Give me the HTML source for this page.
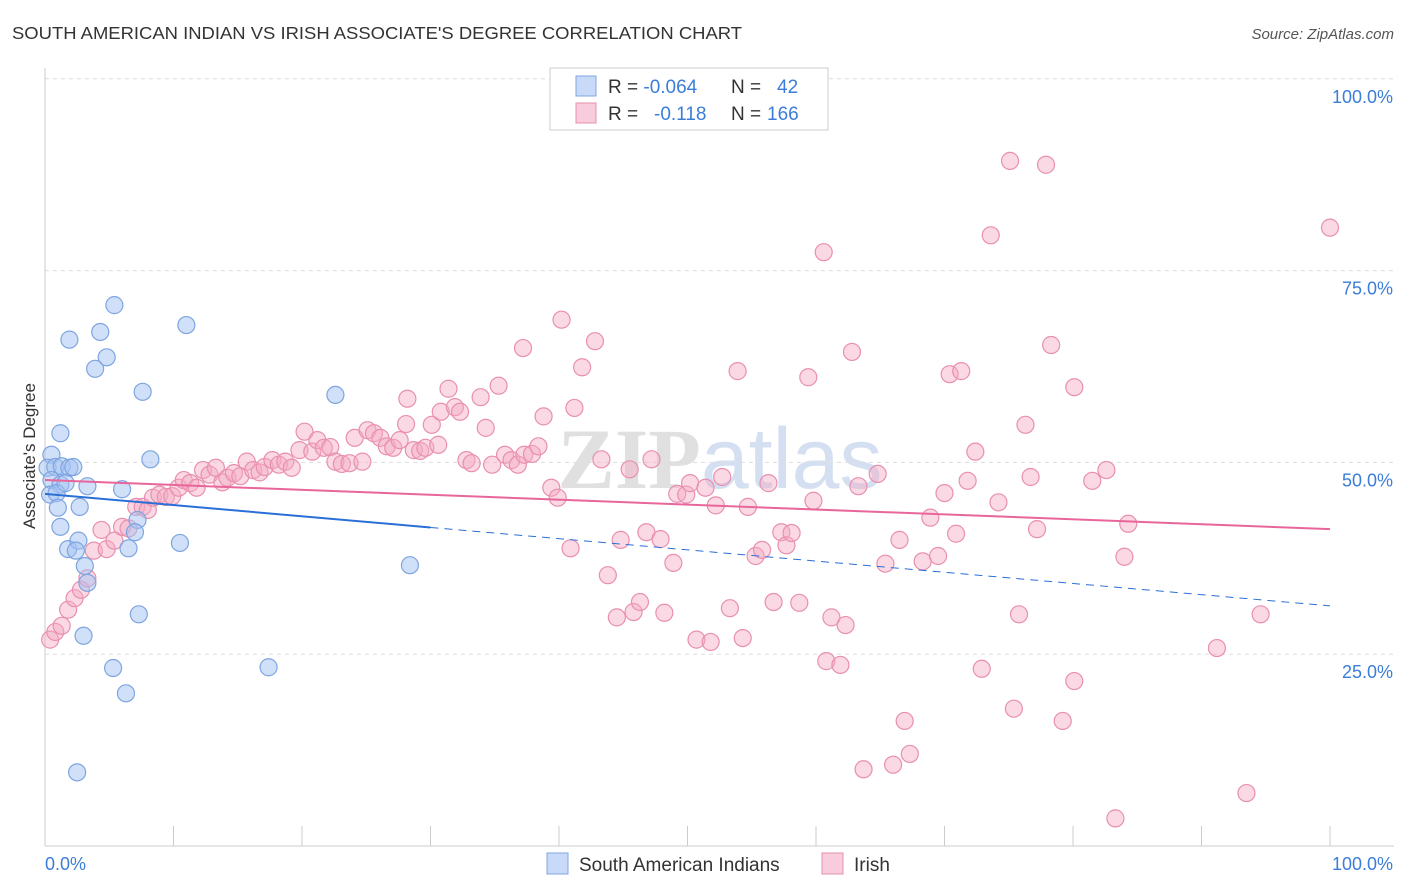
<!DOCTYPE html>
<html><head><meta charset="utf-8"><style>
body{margin:0;background:#fff;font-family:"Liberation Sans",sans-serif;}
#wrap{position:relative;width:1406px;height:892px;overflow:hidden;}
</style></head><body>
<div id="wrap">
<svg id="svg" width="1406" height="892" xmlns="http://www.w3.org/2000/svg">
<text x="12" y="39" font-size="17.5" fill="#333" textLength="730" lengthAdjust="spacingAndGlyphs">SOUTH AMERICAN INDIAN VS IRISH ASSOCIATE'S DEGREE CORRELATION CHART</text>
<text x="1394" y="39" font-size="15" fill="#555" text-anchor="end" font-style="italic">Source: ZipAtlas.com</text>
<text x="35" y="456" font-size="17" fill="#333" text-anchor="middle" transform="rotate(-90 35 456)">Associate's Degree</text>
<text x="720" y="488" font-size="86" fill="#e0e0e0" text-anchor="middle" font-family="Liberation Serif,serif" font-weight="bold">ZIP<tspan font-family="Liberation Sans,sans-serif" font-weight="normal" fill="#d4e0f2">atlas</tspan></text>
<g id="grid"></g><g id="marks"></g>
<g>
<rect x="550" y="68" width="278" height="62" fill="#fff" stroke="#ccc"/>
<rect x="576" y="76" width="20" height="20" fill="rgba(164,194,244,0.6)" stroke="#7fa6e0"/>
<rect x="576" y="103" width="20" height="20" fill="rgba(244,170,196,0.6)" stroke="#e88fae"/>
<text x="608" y="93" font-size="19" fill="#333">R = <tspan fill="#3b7dd8">-0.064</tspan><tspan x="731">N = </tspan><tspan x="777" fill="#3b7dd8">42</tspan></text>
<text x="608" y="120" font-size="19" fill="#333">R = <tspan x="654" fill="#3b7dd8">-0.118</tspan><tspan x="731">N = </tspan><tspan x="767" fill="#3b7dd8">166</tspan></text>
</g>
<g>
<rect x="547" y="853" width="21" height="21" fill="rgba(164,194,244,0.6)" stroke="#7fa6e0"/>
<text x="579" y="871" font-size="19" fill="#333">South American Indians</text>
<rect x="822" y="853" width="21" height="21" fill="rgba(244,170,196,0.6)" stroke="#e88fae"/>
<text x="854" y="871" font-size="19" fill="#333">Irish</text>
</g>
</svg></div>
<script>
const blueX=[0.5,0.2,0.8,1.3,1.9,2.2,0.5,1.2,0.4,0.9,1.6,3.3,1.0,2.7,1.2,1.9,5.4,4.3,4.8,3.9,7.6,11.0,8.2,6.0,7.2,7.0,1.2,1.8,2.6,2.4,3.1,3.3,6.5,10.5,7.3,3.0,5.3,6.3,17.4,2.5,22.6,28.4];
const blueY=[51.0,49.3,49.4,49.5,49.3,49.4,47.7,47.1,45.8,46.0,47.3,46.9,44.1,44.2,53.8,66.0,70.5,67.0,63.7,62.2,59.2,67.9,50.4,46.5,42.5,40.9,41.6,38.7,39.8,38.5,36.5,34.3,38.8,39.5,30.2,27.4,23.2,19.9,23.3,9.6,58.8,36.6];
const pinkX=[0.4,0.8,1.3,1.8,2.3,2.8,3.3,3.8,4.4,4.8,5.4,6.0,6.5,7.1,7.6,8.0,8.4,8.9,9.4,9.9,10.4,10.8,11.3,11.8,12.3,12.8,13.3,13.8,14.2,14.7,15.2,15.7,16.2,16.7,17.1,17.7,18.2,18.7,19.2,19.8,20.2,20.8,21.2,21.7,22.2,22.6,23.1,23.7,24.1,24.7,25.1,25.6,26.1,26.6,27.1,27.6,28.1,28.2,28.7,29.2,29.6,30.1,30.6,30.8,31.4,31.9,32.3,32.8,33.2,33.9,34.3,34.8,35.3,35.8,36.3,36.8,37.3,37.9,38.4,38.8,37.2,39.4,39.9,40.2,40.9,41.2,41.8,42.8,43.3,43.8,44.5,44.8,45.5,45.8,46.3,46.8,47.2,47.9,48.2,48.9,49.2,49.9,50.2,50.7,51.4,51.8,52.2,52.7,53.3,53.9,54.3,54.7,55.3,55.8,56.3,56.7,57.3,57.7,58.1,58.7,59.4,59.8,60.6,60.8,61.2,61.9,62.3,62.8,63.3,63.7,64.8,65.4,66.0,66.5,66.9,67.3,68.3,68.9,69.5,70.0,70.4,70.9,71.3,71.8,72.4,72.9,73.6,74.2,75.1,75.4,75.8,76.3,76.7,77.2,77.9,78.3,79.2,80.1,80.1,81.5,82.6,83.3,84.0,84.3,91.2,93.5,94.6,100];
const pinkY=[26.9,27.9,28.7,30.8,32.3,33.4,34.9,38.5,41.2,38.7,39.8,41.6,41.4,44.2,44.2,43.8,45.4,45.8,45.5,45.6,46.7,47.7,47.3,46.7,49.0,48.4,49.3,47.4,48.0,48.6,48.2,50.1,49.0,48.7,49.4,50.3,49.7,50.1,49.3,51.6,54.0,51.4,52.9,51.9,52.0,50.1,49.8,49.9,53.2,50.1,54.2,53.8,53.2,52.1,51.9,52.9,55.0,58.3,51.6,51.5,51.9,54.9,52.3,56.6,59.6,57.2,56.6,50.3,49.9,58.5,54.5,49.7,60.0,51.0,50.3,49.7,51.0,51.1,52.1,56.0,64.9,46.7,45.4,68.6,38.8,57.1,62.4,65.8,50.4,35.3,29.8,39.9,49.1,30.5,31.8,40.9,50.4,40.0,30.4,36.9,45.9,45.8,47.3,26.9,46.7,26.6,44.4,48.1,31.0,61.9,27.1,44.2,37.8,38.6,47.3,31.8,40.9,39.2,40.8,31.7,61.1,45.0,77.4,24.1,29.8,23.6,28.8,64.4,46.9,10.0,48.5,36.8,10.6,39.9,16.3,12.0,37.1,42.8,37.8,46.0,61.5,40.7,61.9,47.6,51.4,23.1,79.6,44.8,89.3,17.9,30.2,54.9,48.1,41.3,88.8,65.3,16.3,59.8,21.5,47.6,49.0,3.6,37.7,42.0,25.8,6.9,30.2,80.6];
const blueTrend=[45.9,31.3];
const pinkTrend=[47.7,41.3];
const yTicks=[25,50,75,100];
const yTickLabels=["25.0%","50.0%","75.0%","100.0%"];
const xTicks=[0,10,20,30,40,50,60,70,80,90,100];
const NS="http://www.w3.org/2000/svg";
const sx=v=>45+v*12.85, sy=v=>846-v*7.672;
function mk(tag,attrs,parent){const e=document.createElementNS(NS,tag);for(const k in attrs)e.setAttribute(k,attrs[k]);parent.appendChild(e);return e;}
const grid=document.getElementById('grid'), marks=document.getElementById('marks');
yTicks.forEach((t,i)=>{
  const l=mk('line',{x1:45,x2:1394,y1:sy(t),y2:sy(t),stroke:'#ddd','stroke-dasharray':'4,4'},grid);
  
  
  const tx=mk('text',{x:1393,y:sy(t)+24,'font-size':18,fill:'#3b7dd8','text-anchor':'end'},grid);
  tx.textContent=yTickLabels[i];
  
  
});
const ax=mk('line',{x1:45,x2:45,y1:68,y2:846,stroke:'#ccc'},grid);


const bx=mk('line',{x1:45,x2:1394,y1:846,y2:846,stroke:'#ccc'},grid);


xTicks.forEach(t=>{
  const l=mk('line',{x1:sx(t),x2:sx(t),y1:826,y2:846,stroke:'#ccc'},grid);
  
  
});
const xl0=mk('text',{x:45,y:870,'font-size':18,fill:'#3b7dd8'},grid);xl0.textContent='0.0%';


const xl1=mk('text',{x:1393,y:870,'font-size':18,fill:'#3b7dd8','text-anchor':'end'},grid);xl1.textContent='100.0%';


pinkX.forEach((x,i)=>{
  const c=mk('circle',{cx:sx(x),cy:sy(pinkY[i]),r:8.5,fill:'rgba(244,170,196,0.45)',stroke:'#e98fb0','stroke-width':1.2},marks);
  
  
});
blueX.forEach((x,i)=>{
  const c=mk('circle',{cx:sx(x),cy:sy(blueY[i]),r:8.5,fill:'rgba(164,194,244,0.5)',stroke:'#7ea5df','stroke-width':1.2},marks);
  
  
});
const bAt=x=>blueTrend[0]+(blueTrend[1]-blueTrend[0])*x/100;
const pAt=x=>pinkTrend[0]+(pinkTrend[1]-pinkTrend[0])*x/100;
const b1=mk('line',{x1:sx(0),y1:sy(bAt(0)),x2:sx(30),y2:sy(bAt(30)),stroke:'#2a6fd6','stroke-width':2},marks);


const b2=mk('line',{x1:sx(30),y1:sy(bAt(30)),x2:sx(100),y2:sy(bAt(100)),stroke:'#2a6fd6','stroke-width':1,'stroke-dasharray':'8,6'},marks);


const p1=mk('line',{x1:sx(0),y1:sy(pAt(0)),x2:sx(100),y2:sy(pAt(100)),stroke:'#e8669a','stroke-width':2},marks);


</script>
</body></html>
